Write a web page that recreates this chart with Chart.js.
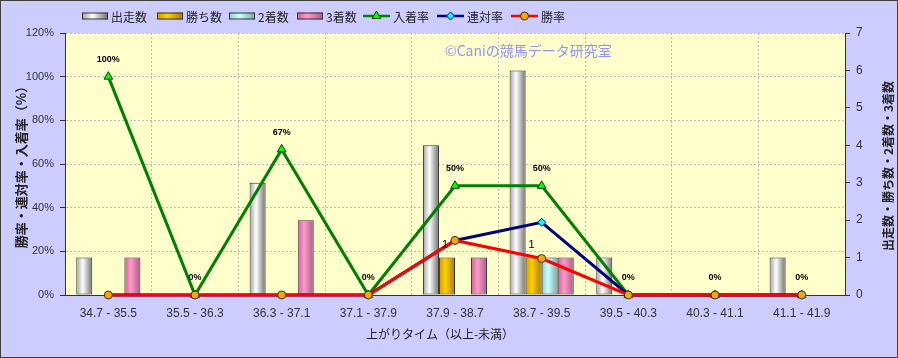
<!DOCTYPE html>
<html><head><meta charset="utf-8">
<script src="https://cdn.jsdelivr.net/npm/chart.js@4.4.1/dist/chart.umd.min.js"></script>
<style>html,body{margin:0;padding:0;background:#ccccff;} canvas{display:block;}</style>
</head><body>
<canvas id="c" width="898" height="358"></canvas>
<script>
const categories = ['34.7 - 35.5','35.5 - 36.3','36.3 - 37.1','37.1 - 37.9','37.9 - 38.7','38.7 - 39.5','39.5 - 40.3','40.3 - 41.1','41.1 - 41.9'];
const runs    = [1,0,3,0,4,6,1,0,1];
const wins    = [0,0,0,0,1,1,0,0,0];
const seconds = [0,0,0,0,0,1,0,0,0];
const thirds  = [1,0,2,0,1,1,0,0,0];
const placeRate    = [100,0,66.7,0,50,50,0,0,0];
const quinellaRate = [0,0,0,0,25,33.3,0,0,0];
const winRate      = [0,0,0,0,25,16.7,0,0,0];
const leftTicks  = [0,20,40,60,80,100,120];
const rightTicks = [0,1,2,3,4,5,6,7];
const seriesNames = ['出走数','勝ち数','2着数','3着数','入着率','連対率','勝率'];

const JP = '"Noto Sans CJK JP", "Noto Sans", sans-serif';
const LAT = '"Liberation Sans", Arial, sans-serif';

const barStops = [
  ['#a0a0a0','#ffffff','#707070'],
  ['#d09a00','#ffd000','#a87c00'],
  ['#90cccc','#ccffff','#78a8a8'],
  ['#c86496','#ff99cc','#a85c84']
];
const lineStyles = [
  {line:'#008000', fill:'#00ff00', stroke:'#004000', style:'triangle', r:5},
  {line:'#000080', fill:'#00ffff', stroke:'#000080', style:'rectRot', r:4},
  {line:'#ff0000', fill:'#ffa500', stroke:'#333333', style:'circle', r:4}
];
const legendX = [82,157,229,297,363,437,511];

function grad(ctx, x0, x1, stops){
  const g = ctx.createLinearGradient(x0,0,x1,0);
  g.addColorStop(0, stops[0]); g.addColorStop(0.4, stops[1]); g.addColorStop(1, stops[2]);
  return g;
}
function drawMarker(ctx, st, x, y){
  ctx.save();
  ctx.fillStyle = st.fill; ctx.strokeStyle = st.stroke; ctx.lineWidth = 1;
  Chart.helpers.drawPoint(ctx, {pointStyle: st.style, radius: st.r, rotation: 0, borderWidth: 1}, x, y);
  ctx.restore();
}

const deco = {
  id: 'deco',
  beforeDraw(chart){
    const {ctx, chartArea: a} = chart;
    ctx.save();
    ctx.fillStyle = '#ccccff'; ctx.fillRect(0,0,chart.width,chart.height);
    ctx.fillStyle = '#ffffcc'; ctx.fillRect(a.left,a.top,a.right-a.left,a.bottom-a.top);
    ctx.restore();
  },
  beforeDatasetsDraw(chart){
    const ctx = chart.ctx;
    for (let d = 0; d < 4; d++){
      chart.getDatasetMeta(d).data.forEach(el => {
        el.options.backgroundColor = grad(ctx, el.x - el.width/2, el.x + el.width/2, barStops[d]);
      });
    }
    ctx.save();
    ctx.font = '14px ' + JP; ctx.fillStyle = '#9494f4';
    ctx.textAlign = 'left'; ctx.textBaseline = 'middle';
    ctx.fillText('©Caniの競馬データ研究室', 445, 51);
    ctx.restore();
  },
  afterDatasetsDraw(chart){
    const ctx = chart.ctx;
    ctx.save();
    ctx.fillStyle = '#000'; ctx.textAlign = 'center'; ctx.textBaseline = 'middle';
    ctx.font = 'bold 9px ' + LAT;
    chart.getDatasetMeta(4).data.forEach((p,i) => {
      ctx.fillText(Math.round(placeRate[i]) + '%', p.x, p.y - 17);
    });
    ctx.font = '11px ' + LAT;
    chart.getDatasetMeta(1).data.forEach((b,i) => {
      if (wins[i] > 0) ctx.fillText(String(wins[i]), b.x - 2, b.y - 13);
    });
    ctx.restore();
  },
  afterDraw(chart){
    const ctx = chart.ctx;
    ctx.save();
    ctx.font = '12px ' + JP; ctx.fillStyle = '#222'; ctx.textBaseline = 'middle'; ctx.textAlign = 'left';
    seriesNames.forEach((n,i) => {
      const x = legendX[i], y = 16;
      if (i < 4){
        ctx.fillStyle = grad(ctx, x, x+26, barStops[i]);
        ctx.fillRect(x, y-3.5, 26, 7);
        ctx.strokeStyle = '#333'; ctx.lineWidth = 1;
        ctx.strokeRect(x+0.5, y-3, 25, 6);
        ctx.fillStyle = '#222';
        ctx.fillText(n, x+29, y+1);
      } else {
        const st = lineStyles[i-4];
        ctx.strokeStyle = st.line; ctx.lineWidth = 2.5;
        ctx.beginPath(); ctx.moveTo(x, y); ctx.lineTo(x+27, y); ctx.stroke();
        drawMarker(ctx, st, x+13.5, y);
        ctx.fillStyle = '#222';
        ctx.fillText(n, x+30, y+1);
      }
    });
    ctx.font = '12px ' + JP; ctx.fillStyle = '#222'; ctx.textAlign = 'center';
    ctx.fillText('上がりタイム（以上-未満）', 440, 334);
    ctx.translate(888, 166); ctx.rotate(-Math.PI/2);
    ctx.font = 'bold 12px ' + JP;
    ctx.fillText('出走数・勝ち数・2着数・3着数', 0, 0);
    ctx.restore();
    ctx.save();
    ctx.strokeStyle = '#404040'; ctx.lineWidth = 1;
    ctx.strokeRect(0.5, 0.5, chart.width-1, chart.height-1);
    ctx.restore();
  }
};

const barDs = [runs, wins, seconds, thirds].map((arr, i) => ({
  type: 'bar', label: seriesNames[i], data: arr, yAxisID: 'y1', order: 10 + i,
  backgroundColor: () => barStops[i][1], borderColor: '#333', borderWidth: 1, borderSkipped: false,
  barPercentage: 1, categoryPercentage: 0.74
}));
const lineDs = [placeRate, quinellaRate, winRate].map((arr, i) => {
  const st = lineStyles[i];
  return {
    type: 'line', label: seriesNames[4+i], data: arr, yAxisID: 'y', order: 3 - i,
    borderColor: st.line, borderWidth: 3, backgroundColor: st.fill,
    pointStyle: st.style, pointRadius: st.r, pointBackgroundColor: st.fill,
    pointBorderColor: st.stroke, pointBorderWidth: 1, tension: 0, clip: false, fill: false
  };
});

new Chart(document.getElementById('c'), {
  data: { labels: categories, datasets: [...barDs, ...lineDs] },
  options: {
    responsive: false, animation: false, devicePixelRatio: 1,
    layout: { padding: { top: 33, left: 0, right: 0, bottom: 0 } },
    plugins: { legend: { display: false }, tooltip: { enabled: false } },
    scales: {
      x: {
        type: 'category', offset: true,
        grid: { display: true, offset: true, drawTicks: false, color: '#bdbdbd', lineWidth: 1 },
        border: { display: true, color: '#333', width: 1, dash: [2,2] },
        ticks: { color: '#333', font: { size: 12, family: LAT }, padding: 11, maxRotation: 0, autoSkip: false },
        afterFit(s){ s.height = 63; }
      },
      y: {
        position: 'left', min: 0, max: 120,
        afterBuildTicks(s){ s.ticks = leftTicks.map(v => ({value: v})); },
        grid: { color: '#bdbdbd', drawTicks: true, tickLength: 5, tickColor: '#333' },
        border: { display: true, color: '#333', width: 1, dash: [2,2] },
        ticks: { color: '#333', font: { size: 11, family: LAT }, padding: 6, callback: v => v + '%' },
        title: { display: true, text: '勝率・連対率・入着率（%）', color: '#222', font: { size: 13, family: JP, weight: 'bold' }, padding: { top: 13, bottom: 0 } },
        afterFit(s){ s.width = 65; }
      },
      y1: {
        position: 'right', min: 0, max: 7,
        afterBuildTicks(s){ s.ticks = rightTicks.map(v => ({value: v})); },
        grid: { drawOnChartArea: false, drawTicks: true, tickLength: 5, tickColor: '#333' },
        border: { display: true, color: '#333', width: 1 },
        ticks: { color: '#333', font: { size: 12, family: LAT }, padding: 6 },
        afterFit(s){ s.width = 53; }
      }
    }
  },
  plugins: [deco]
});
</script>
</body></html>
